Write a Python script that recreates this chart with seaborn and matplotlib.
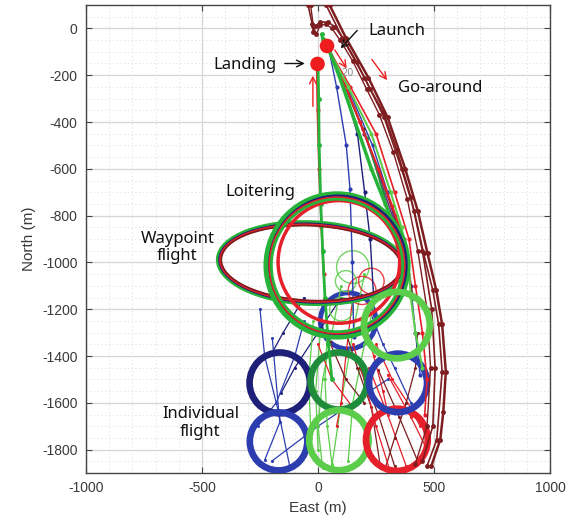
import matplotlib
matplotlib.use("Agg")
import matplotlib.pyplot as plt
from matplotlib.patches import Circle, Ellipse
from matplotlib.ticker import MultipleLocator
import seaborn as sns
import pandas as pd

sns.set_theme(style="white")
plt.rcParams['axes.unicode_minus'] = False

# ---------------- data (metres: east, north) ----------------
launch_e, launch_n = [39], [-75]
landing_e, landing_n = [-2], [-152]

# loiter / waypoint patterns
loiter_e = [82, 86, 90]
loiter_n = [-1013, -1010, -998]
loiter_r = [305, 295, 262]
loiter_names = ["green", "navy", "red"]

waypoint_center = (-30, -1003)
waypoint_size = (800, 345)
waypoint_angle = -2.5

# individual flight circles
indiv_e = [-165, -170, 90, 90, 340, 345, 340]
indiv_n = [-1515, -1765, -1507, -1760, -1758, -1515, -1268]
indiv_r = [130, 124, 122, 128, 133, 125, 142]
indiv_names = ["navy", "blue", "darkgreen", "lightgreen", "red", "blue", "lightgreen"]

# partially hidden blue pattern near loiter centre
hidden_e, hidden_n, hidden_r = [130], [-1250], [120]

# small transition loops
loop_e = [150, 190, 100, 230, 120]
loop_n = [-1020, -1120, -1200, -1080, -1080]
loop_r = [70, 60, 50, 55, 45]
loop_names = ["lightgreen", "red", "lightgreen", "red", "lightgreen"]

# go-around tracks (maroon)
ga1_e = [50, 120, 217, 300, 376, 430, 472, 510, 535, 551, 540, 527, 488]
ga1_n = [100, -40, -210, -380, -600, -780, -961, -1120, -1265, -1467, -1640, -1757, -1872]
ga2_e = [35, 105, 200, 285, 360, 415, 455, 495, 520, 535, 512, 470]
ga2_n = [100, -40, -210, -380, -600, -780, -961, -1120, -1265, -1467, -1757, -1870]
ga3_e = [-43, -25, -20, -10, 10, 44, 73, 109, 167, 224, 281, 340, 400, 450, 490, 505, 495, 450]
ga3_n = [100, 20, -16, 12, 27, 27, 6, -44, -144, -257, -357, -520, -720, -950, -1200, -1450, -1700, -1850]
ga4_e = [-32, -20, -8, 10, 35, 60, 95, 150, 210, 265, 325, 385, 430, 470, 485, 470, 420]
ga4_n = [100, 10, -25, 14, 18, 0, -50, -140, -260, -370, -530, -730, -950, -1200, -1450, -1700, -1860]

# outbound fan tracks from launch
f_green_e = [40, 90, 160, 230, 290, 340, 375, 388]
f_green_n = [-75, -200, -400, -600, -750, -870, -980, -1050]
f_red_e = [40, 100, 180, 260, 320, 370, 385]
f_red_n = [-75, -200, -400, -600, -760, -900, -1010]
f_blue_e = [45, 80, 122, 138, 148, 154]
f_blue_n = [-80, -250, -500, -687, -1000, -1320]
f_blue2_e = [50, 110, 170, 201, 225, 240]
f_blue2_n = [-90, -250, -450, -700, -900, -1150]
f_purple_e = [45, 120, 200, 270, 320, 365]
f_purple_n = [-85, -250, -450, -650, -800, -950]
f_lgreen_e = [40, 130, 230, 313, 360, 390, 400, 420, 450]
f_lgreen_n = [-80, -250, -450, -700, -850, -1000, -1150, -1300, -1450]
f_red2_e = [40, 140, 250, 330, 392, 420, 450, 470, 460]
f_red2_n = [-80, -250, -450, -700, -900, -1100, -1300, -1500, -1650]
f_dgreen_e = [40, 120, 210, 281, 330]
f_dgreen_n = [-80, -260, -470, -700, -880]
f_blue3_e = [50, 140, 235, 300, 350, 400, 420, 440]
f_blue3_n = [-90, -280, -500, -700, -900, -1100, -1300, -1480]
f_red3_e = [42, 115, 195, 265, 330, 380, 410]
f_red3_n = [-85, -240, -430, -620, -800, -960, -1150]

# landing approach tracks
app_green_e = [0, 3, 5, 12, 20, 30, 45, 60]
app_green_n = [-150, -300, -500, -750, -950, -1150, -1350, -1500]
app_red_e = [-5, -2, 5, 15, 25]
app_red_n = [-150, -350, -600, -850, -1050]
app_top_e = [16, 20, 30, 39]
app_top_n = [-25, -45, -60, -75]

# transitions between patterns
tr_navy_e = [-60, -150, -200]
tr_navy_n = [-1150, -1300, -1390]
tr_blue1_e = [-197, -165, -229]
tr_blue1_n = [-1323, -1684, -1843]
tr_blue2_e = [-250, -230, -170, -120]
tr_blue2_n = [-1200, -1400, -1640, -1880]
tr_blue3_e = [-200, 0, 150, 300]
tr_blue3_n = [-1850, -1700, -1600, -1500]
tr_blue4_e = [100, 0, -100, -160]
tr_blue4_n = [-1150, -1300, -1450, -1560]
tr_blue5_e = [220, 280, 330, 400]
tr_blue5_n = [-1200, -1350, -1450, -1600]
tr_blue6_e = [-60, -100, -180, -260]
tr_blue6_n = [-1250, -1400, -1600, -1700]
tr_lg1_e = [100, 60, 20, 0, 20]
tr_lg1_n = [-1100, -1300, -1500, -1700, -1880]
tr_lg2_e = [200, 150, 100, 60]
tr_lg2_n = [-1050, -1300, -1600, -1870]
tr_lg3_e = [-20, -40, -30]
tr_lg3_n = [-1250, -1500, -1750]
tr_lg4_e = [10, -10, 0]
tr_lg4_n = [-1300, -1550, -1800]
tr_lg5_e = [250, 200, 150, 130]
tr_lg5_n = [-1150, -1350, -1600, -1850]
tr_lg6_e = [40, 30, 40, 60]
tr_lg6_n = [-1300, -1500, -1700, -1860]
tr_red1_e = [150, 120, 100, 80]
tr_red1_n = [-1150, -1400, -1600, -1700]
tr_red2_e = [180, 260, 330]
tr_red2_n = [-1450, -1650, -1870]
tr_red3_e = [220, 300, 380]
tr_red3_n = [-1450, -1650, -1870]
tr_red4_e = [260, 350, 430]
tr_red4_n = [-1460, -1660, -1850]
tr_red5_e = [300, 400, 470]
tr_red5_n = [-1480, -1660, -1800]
tr_red6_e = [0, 60, 150]
tr_red6_n = [-1350, -1500, -1620]
tr_red7_e = [50, 120, 200]
tr_red7_n = [-1340, -1500, -1600]
tr_red8_e = [200, 240, 280, 300]
tr_red8_n = [-1250, -1400, -1550, -1640]
tr_red9_e = [120, 170, 230, 270]
tr_red9_n = [-1300, -1450, -1620, -1880]
tr_red10_e = [250, 320, 400, 440]
tr_red10_n = [-1350, -1500, -1620, -1700]
tr_mar1_e = [430, 420, 380, 330, 290]
tr_mar1_n = [-1300, -1450, -1600, -1750, -1880]
tr_mar2_e = [150, 200, 250, 310]
tr_mar2_n = [-1350, -1500, -1700, -1890]

x_ticks = [-1000, -500, 0, 500, 1000]
y_ticks = [0, -200, -400, -600, -800, -1000, -1200, -1400, -1600, -1800]

# ---------------- styles ----------------
col = {
    "maroon": "#7d1d1f",
    "red": "#e5202a",
    "green": "#27b23a",
    "lightgreen": "#5ccd4a",
    "darkgreen": "#1f8c3b",
    "navy": "#1d1f78",
    "blue": "#2c3db0",
    "purple": "#7a2c82",
}

fig = plt.figure(figsize=(5.76, 5.31), dpi=100)
ax = fig.add_axes([86 / 576, 1 - 473 / 531, 464 / 576, 468 / 531])
ax.set_facecolor("white")


def track(e, n, c, lw=1.0, ms=2.5, z=3, alpha=1.0, marker="o"):
    df = pd.DataFrame({"e": e, "n": n})
    sns.lineplot(data=df, x="e", y="n", sort=False, estimator=None, ax=ax,
                 color=c, lw=lw, marker=marker, markersize=ms,
                 markeredgewidth=0, zorder=z, alpha=alpha)


# hidden blue pattern
for e, n, r in zip(hidden_e, hidden_n, hidden_r):
    ax.add_patch(Circle((e, n), r, fill=False, ec=col["blue"], lw=3.5, zorder=1.5))

# transitions (drawn underneath)
for e, n, c in [
    (tr_navy_e, tr_navy_n, "navy"), (tr_blue1_e, tr_blue1_n, "blue"),
    (tr_blue2_e, tr_blue2_n, "blue"), (tr_blue3_e, tr_blue3_n, "blue"),
    (tr_blue4_e, tr_blue4_n, "navy"), (tr_blue5_e, tr_blue5_n, "blue"),
    (tr_blue6_e, tr_blue6_n, "blue"),
    (tr_lg1_e, tr_lg1_n, "lightgreen"), (tr_lg2_e, tr_lg2_n, "lightgreen"),
    (tr_lg3_e, tr_lg3_n, "lightgreen"), (tr_lg4_e, tr_lg4_n, "lightgreen"),
    (tr_lg5_e, tr_lg5_n, "lightgreen"), (tr_lg6_e, tr_lg6_n, "lightgreen"),
    (tr_red1_e, tr_red1_n, "red"), (tr_red2_e, tr_red2_n, "maroon"),
    (tr_red3_e, tr_red3_n, "red"), (tr_red4_e, tr_red4_n, "maroon"),
    (tr_red5_e, tr_red5_n, "red"), (tr_red6_e, tr_red6_n, "red"),
    (tr_red7_e, tr_red7_n, "maroon"), (tr_red8_e, tr_red8_n, "red"),
    (tr_red9_e, tr_red9_n, "maroon"), (tr_red10_e, tr_red10_n, "red"),
    (tr_mar1_e, tr_mar1_n, "maroon"), (tr_mar2_e, tr_mar2_n, "red"),
]:
    track(e, n, col[c], lw=0.9, ms=2.2, z=2)

# small loops
for e, n, r, c in zip(loop_e, loop_n, loop_r, loop_names):
    ax.add_patch(Circle((e, n), r, fill=False, ec=col[c], lw=1.0, zorder=2, alpha=0.85))

# individual circles (the last one sits on top of the loiter rings)
for i, (e, n, r, c) in enumerate(zip(indiv_e, indiv_n, indiv_r, indiv_names)):
    z = 7 if i == len(indiv_e) - 1 else 4
    ax.add_patch(Circle((e, n), r, fill=False, ec=col[c], lw=4.8, zorder=z))

# outbound fan
for e, n, c, lw in [
    (f_blue_e, f_blue_n, "blue", 1.0), (f_blue2_e, f_blue2_n, "navy", 1.0),
    (f_blue3_e, f_blue3_n, "blue", 1.0), (f_red3_e, f_red3_n, "maroon", 1.0),
    (f_purple_e, f_purple_n, "purple", 1.2), (f_dgreen_e, f_dgreen_n, "darkgreen", 1.2),
    (f_red_e, f_red_n, "red", 1.5), (f_red2_e, f_red2_n, "red", 1.2),
    (f_lgreen_e, f_lgreen_n, "lightgreen", 1.5), (f_green_e, f_green_n, "green", 2.5),
]:
    track(e, n, col[c], lw=lw, ms=3, z=5)

# landing approach
track(app_red_e, app_red_n, col["red"], lw=1.5, ms=3, z=5)
track(app_green_e, app_green_n, col["green"], lw=2.0, ms=3.5, z=5)
track(app_top_e, app_top_n, col["green"], lw=2.0, ms=3.5, z=5)

# go-around tracks
for e, n, lw in [(ga1_e, ga1_n, 1.8), (ga2_e, ga2_n, 1.2), (ga3_e, ga3_n, 1.2), (ga4_e, ga4_n, 1.0)]:
    track(e, n, col["maroon"], lw=lw, ms=3.5, z=6)

# waypoint ellipse (several laps)
for dw, c, lw in [(0, "green", 3.5), (-10, "navy", 1.8), (-18, "red", 1.8), (-26, "maroon", 1.2)]:
    ax.add_patch(Ellipse(waypoint_center, waypoint_size[0] + dw, waypoint_size[1] + dw,
                         angle=waypoint_angle, fill=False, ec=col[c], lw=lw, zorder=6))

# loiter circles
for e, n, r, c, lw in zip(loiter_e, loiter_n, loiter_r, loiter_names, [4.0, 1.8, 2.5]):
    ax.add_patch(Circle((e, n), r, fill=False, ec=col[c], lw=lw, zorder=6))
ax.add_patch(Circle((loiter_e[0], loiter_n[0]), loiter_r[0] - 14, fill=False,
                    ec=col["red"], lw=1.5, zorder=6))
ax.add_patch(Circle((loiter_e[0], loiter_n[0]), loiter_r[0] - 22, fill=False,
                    ec=col["green"], lw=2.0, zorder=6))

# launch / landing markers
sns.scatterplot(x=launch_e + landing_e, y=launch_n + landing_n, ax=ax, color="#ee1c1c",
                s=110, edgecolor="none", zorder=10, legend=False)

# annotations
tfont = dict(family="Noto Sans", fontsize=12, color="#111111")
ax.annotate("", xy=(90, -94), xytext=(177, 0),
            arrowprops=dict(arrowstyle="->", color="#111111", lw=1.0), zorder=11)
ax.text(217, -10, "Launch", ha="left", va="center", zorder=11, **tfont)
ax.annotate("", xy=(-45, -150), xytext=(-155, -150),
            arrowprops=dict(arrowstyle="->", color="#111111", lw=1.0), zorder=11)
ax.text(-180, -155, "Landing", ha="right", va="center", zorder=11, **tfont)
ax.annotate("", xy=(305, -231), xytext=(225, -123),
            arrowprops=dict(arrowstyle="->", color="#ee2222", lw=1.0), zorder=11)
ax.annotate("", xy=(130, -181), xytext=(66, -82),
            arrowprops=dict(arrowstyle="->", color="#ee2222", lw=1.0), zorder=11)
ax.annotate("", xy=(-22, -190), xytext=(-22, -345),
            arrowprops=dict(arrowstyle="->", color="#ee2222", lw=1.0), zorder=11)
ax.text(100, -190, "20", ha="left", va="center", fontsize=7, color="#888888", zorder=11)
ax.text(344, -255, "Go-around", ha="left", va="center", zorder=11, **tfont)
ax.text(-247, -700, "Loitering", ha="center", va="center", zorder=11, **tfont)
ax.text(-606, -936, "Waypoint\nflight", ha="center", va="center", linespacing=1.15,
        zorder=11, **tfont)
ax.text(-507, -1688, "Individual\nflight", ha="center", va="center", linespacing=1.15,
        zorder=11, **tfont)

# axes styling (MATLAB look)
ax.set_xlim(-1000, 1000)
ax.set_ylim(-1900, 100)
ax.set_xticks(x_ticks)
ax.set_yticks(y_ticks)
ax.set_xticklabels([str(v) for v in x_ticks])
ax.set_yticklabels([str(v) for v in y_ticks])
ax.xaxis.set_minor_locator(MultipleLocator(100))
ax.yaxis.set_minor_locator(MultipleLocator(50))
ax.grid(True, which="major", color="#d6d6d6", lw=0.9, ls="-", zorder=0)
ax.grid(True, which="minor", color="#dcdcdc", lw=0.6, ls=(0, (1.5, 3)), zorder=0)
ax.set_axisbelow(True)
ax.tick_params(which="major", direction="in", length=4, width=0.8, color="#444444",
               labelsize=10, labelcolor="#3a3a3a", pad=6, top=True, right=True,
               bottom=True, left=True)
ax.tick_params(which="minor", length=0)
for lab in ax.get_xticklabels() + ax.get_yticklabels():
    lab.set_family("Liberation Sans")
for s in ax.spines.values():
    s.set_color("#444444")
    s.set_linewidth(1.0)
ax.set_xlabel("East (m)", fontsize=11, family="Liberation Sans", color="#3a3a3a", labelpad=4)
ax.set_ylabel("North (m)", fontsize=11, family="Liberation Sans", color="#3a3a3a", labelpad=4)

fig.savefig("out.png", dpi=100)
